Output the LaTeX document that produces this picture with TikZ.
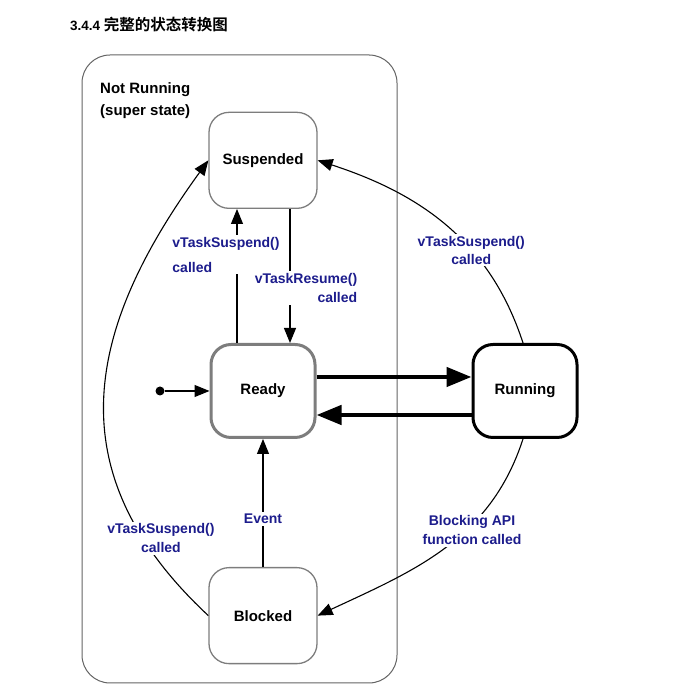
\documentclass[tikz,border=0pt]{standalone}
\usepackage{fontspec}
\setmainfont{Liberation Sans}
\newfontfamily\cjkfont{Noto Sans CJK SC}[BoldFont={* Bold}]
\usetikzlibrary{arrows.meta,positioning}

\definecolor{lblblue}{RGB}{28,28,140}
\definecolor{edgegray}{RGB}{125,125,125}

\begin{document}
\begin{tikzpicture}[
            x=1pt, y=1pt,
            node distance=134pt,
            state/.style={
                draw=edgegray,
                line width=1.3pt,
                rounded corners=20pt,
                fill=white,
                minimum width=108pt,
                minimum height=96pt,
                font=\fontsize{15}{18}\selectfont\bfseries
            },
            thickstate/.style={
                state,
                line width=3pt,
                minimum width=104pt,
                minimum height=93pt
            },
            trans/.style={-{Triangle[length=15pt,width=12pt]}, line width=1.1pt},
            bigtrans/.style={-{Triangle[length=25pt,width=19pt]}, line width=4.5pt},
            lbl/.style={
                fill=white,
                text=lblblue,
                inner sep=2pt,
                font=\fontsize{14}{19}\selectfont\bfseries
            }
        ]

            \useasboundingbox (0,0) rectangle (697,687);

            \node[anchor=west, inner sep=0pt] (title) at (70,662)
                {\bfseries\fontsize{13.5}{16}\selectfont 3.4.4
                 {\cjkfont\fontsize{15.5}{18}\selectfont 完整的状态转换图}};

            \node[draw=edgegray!80!black, line width=1pt, rounded corners=28pt,
                minimum width=315pt, minimum height=628pt] (superstate) at (239.5,318) {};

            \node[anchor=north west, align=left, inner sep=0pt,
                font=\fontsize{15}{22}\selectfont\bfseries] (superlbl) at (100,605)
                {Not Running\\(super state)};

            \node[thickstate, draw=edgegray] (ready) at (263,296) {Ready};

            \node[thickstate, draw=black, right=155pt of ready] (running) {Running};

            \node[state, above=of ready] (suspended) {Suspended};

            \node[state, below=128pt of ready] (blocked) {Blocked};

            \node[circle, fill=black, inner sep=0pt, minimum size=9pt] (init) at (160,296) {};

            \draw[trans] (init) -- (ready);

            \draw[bigtrans]
                ([yshift=14pt]ready.east) -- ([yshift=14pt]running.west);

            \draw[bigtrans]
                ([yshift=-24pt]running.west) -- ([yshift=-24pt]ready.east);

            \draw[trans]
                ([xshift=-26pt]ready.north)
                -- node[lbl, pos=0.66, xshift=-11pt, align=left,
                    font=\fontsize{14}{25}\selectfont\bfseries] {vTaskSuspend()\\called}
                ([xshift=-26pt]ready.north |- suspended.south);

            \draw[trans]
                ([xshift=27pt]suspended.south)
                -- node[lbl, pos=0.59, xshift=16pt, align=right] {vTaskResume()\\called}
                ([xshift=27pt]suspended.south |- ready.north);

            \draw[trans]
                (blocked) -- node[lbl, pos=0.375] {Event} (ready);

            \draw[trans]
                ([xshift=-2pt]running.north)
                to[out=108, in=-18]
                node[lbl, pos=0.37, align=center,
                    font=\fontsize{14}{18}\selectfont\bfseries] {vTaskSuspend()\\called}
                (suspended.east);

            \draw[trans]
                ([xshift=-2pt]running.south)
                to[out=-108, in=25]
                node[lbl, pos=0.38, xshift=4pt, yshift=-2pt, align=center] {Blocking API\\function called}
                (blocked.east);

            \draw[trans]
                (blocked.west)
                to[out=137, in=234, looseness=1.18]
                node[lbl, pos=0.18, xshift=18pt, align=center] {vTaskSuspend()\\called}
                (suspended.west);

        \end{tikzpicture}
\end{document}
